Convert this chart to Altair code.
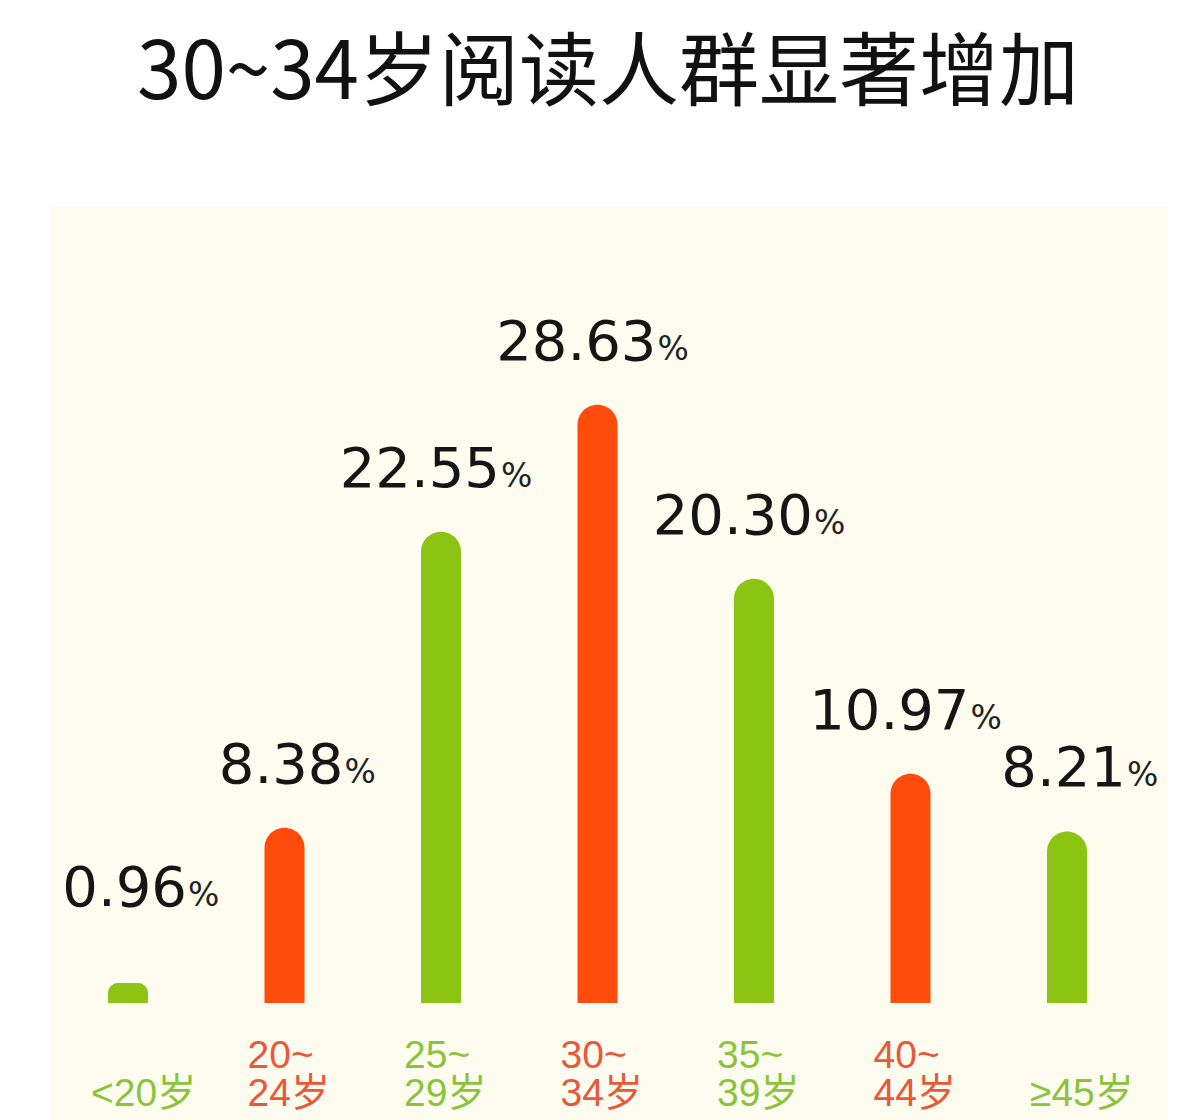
import altair as alt
import pandas as pd

categories = ["<20岁", "20~24岁", "25~29岁", "30~34岁", "35~39岁", "40~44岁", "≥45岁"]
line1 = ["", "20~", "25~", "30~", "35~", "40~", ""]
line2 = ["<20岁", "24岁", "29岁", "34岁", "39岁", "44岁", "≥45岁"]
values = [0.96, 8.38, 22.55, 28.63, 20.30, 10.97, 8.21]
value_labels = ["0.96", "8.38", "22.55", "28.63", "20.30", "10.97", "8.21"]
groups = ["g", "o", "g", "o", "g", "o", "g"]
title_text = "30~34岁阅读人群显著增加"

df = pd.DataFrame({
    "cat": categories, "l1": line1, "l2": line2, "v": values,
    "lab": value_labels, "grp": groups, "pct": ["%"] * len(values),
})

W, H = 1165, 1112
xscale = alt.Scale(domain=categories, range=[41.75, 1137.25], paddingInner=0, paddingOuter=0)
yscale = alt.Scale(domain=[-5.598, 47.608])
bar_color = alt.Scale(domain=["g", "o"], range=["#8CC414", "#FF4B0C"])
lab_color = alt.Scale(domain=["g", "o"], range=["#8BC43C", "#E8593A"])

X = alt.X("cat:N", scale=xscale, axis=None, sort=categories)
LABEL_FONT = "Liberation Sans, Noto Sans CJK SC"

panel = alt.Chart(pd.DataFrame({"a": [0]})).mark_rect(color="#FEFCEE").encode(
    x=alt.value(42), x2=alt.value(1160), y=alt.value(199), y2=alt.value(H)
)

title = alt.Chart(pd.DataFrame({"t": [title_text]})).mark_text(
    font="Noto Sans CJK SC", fontSize=80, fontWeight="normal", color="#111111",
    align="center", baseline="middle"
).encode(text="t:N", x=alt.value(600), y=alt.value(67))

base = alt.Chart(df)

bars = base.mark_bar(width=40, cornerRadiusTopLeft=20, cornerRadiusTopRight=20).encode(
    x=X,
    y=alt.Y("v:Q", scale=yscale, axis=None),
    y2=alt.datum(0),
    color=alt.Color("grp:N", scale=bar_color, legend=None),
)

labels = base.transform_calculate(ly="max(datum.v, 2.5)")

num = labels.mark_text(
    font="DejaVu Sans", fontSize=56, color="#151515", align="right",
    baseline="alphabetic", dx=59, dy=-45
).encode(x=X, y=alt.Y("ly:Q", scale=yscale, axis=None), text="lab:N")

pct = labels.mark_text(
    font="DejaVu Sans", fontSize=33, color="#222222", align="left",
    baseline="alphabetic", dx=60, dy=-45
).encode(x=X, y=alt.Y("ly:Q", scale=yscale, axis=None), text="pct:N")

xl1 = base.mark_text(
    font=LABEL_FONT, fontSize=39, align="left", baseline="alphabetic", dx=-37
).encode(x=X, y=alt.value(1060), text="l1:N",
         color=alt.Color("grp:N", scale=lab_color, legend=None))

xl2 = base.mark_text(
    font=LABEL_FONT, fontSize=39, align="left", baseline="alphabetic", dx=-37
).encode(x=X, y=alt.value(1098), text="l2:N",
         color=alt.Color("grp:N", scale=lab_color, legend=None))

chart = alt.layer(panel, title, bars, num, pct, xl1, xl2).resolve_scale(
    color="independent"
).properties(
    width=W, height=H, padding=0, autosize=alt.AutoSizeParams(type="none"),
    background="#FFFFFF"
).configure_view(stroke=None)

chart.save("out.html", embed_options={"renderer": "svg", "actions": False})
